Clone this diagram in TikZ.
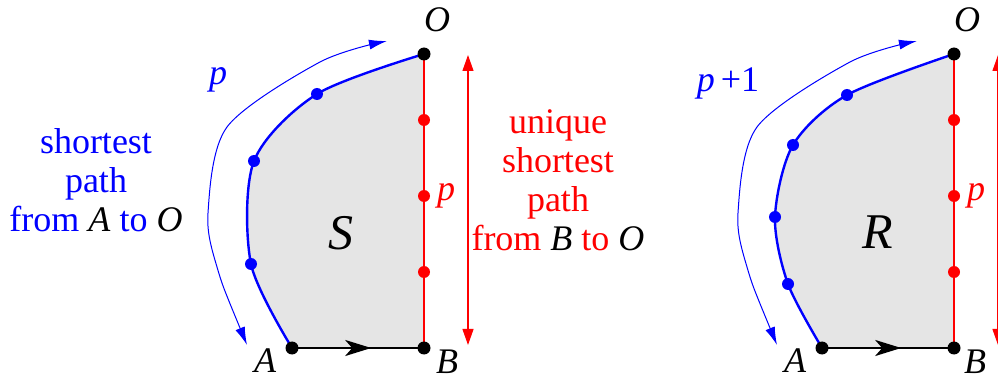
\documentclass[tikz,border=0pt]{standalone}
\usepackage{fontspec}
\setmainfont{Liberation Serif}
\definecolor{Region}{HTML}{E5E5E5}
\usetikzlibrary{arrows.meta,decorations.markings,calc}
\tikzset{
  blackdot/.style={circle,fill=black,inner sep=0pt,minimum size=6.5pt},
  bluedot/.style={circle,fill=blue,inner sep=0pt,minimum size=6pt},
  reddot/.style={circle,fill=red,inner sep=0pt,minimum size=6pt},
  region/.style={fill=Region},
  bluepath/.style={draw=blue,line width=1.2pt},
  redpath/.style={draw=red,line width=1.2pt},
  basepath/.style={draw=black,line width=1.2pt,postaction={decorate},
    decoration={markings,mark=at position 0.6 with
      {\arrow{Stealth[length=13pt,width=8pt,inset=3.5pt]}}}},
  sidearrow/.style={{Latex[length=9pt,width=5pt]}-{Latex[length=9pt,width=5pt]},
    draw=blue,line width=0.5pt},
  redarrow/.style={{Triangle[length=8pt,width=5.5pt]}-{Triangle[length=8pt,width=5.5pt]},
    draw=red,line width=0.6pt},
  lab/.style={font=\fontsize{18}{19.5}\selectfont\itshape,inner sep=1pt},
  biglab/.style={font=\fontsize{25}{27}\selectfont\itshape},
  note/.style={font=\fontsize{18}{19.5}\selectfont,align=center}
}
\newcommand{\vn}[1]{\textcolor{black}{\textit{#1}}}

\begin{document}
\begin{tikzpicture}[x=0.5pt,y=0.5pt]
  \useasboundingbox (0,0) rectangle (998,381);
  % left panel: region S
  \coordinate (A) at (292,33);
  \coordinate (B) at (424,33);
  \coordinate (O) at (424,327);
  \coordinate (a1) at (251,117);
  \coordinate (a2) at (254,220);
  \coordinate (a3) at (317,287);
  \fill[region] plot[smooth] coordinates {(A) (a1) (a2) (a3) (O)} -- (B) -- cycle;
  \draw[bluepath] plot[smooth] coordinates {(A) (a1) (a2) (a3) (O)};
  \draw[redpath] (B) -- (O);
  \draw[basepath] (A) -- (B);
  \node[bluedot] (d1) at (a1) {};
  \node[bluedot] (d2) at (a2) {};
  \node[bluedot] (d3) at (a3) {};
  \node[reddot] (e1) at (424,109) {};
  \node[reddot] (e2) at (424,185) {};
  \node[reddot] (e3) at (424,261) {};
  \node[blackdot] (nA) at (A) {};
  \node[blackdot] (nB) at (B) {};
  \node[blackdot] (nO) at (O) {};
  \node[lab] at ($(O)+(13,34)$) {O};
  \node[lab] at ($(A)+(-27,-13)$) {A};
  \node[lab] at ($(B)+(23,-14)$) {B};
  \node[biglab] at (341,148) {S};
  \coordinate (s0) at (247,36);
  \coordinate (s1) at (387,340);
  \draw[sidearrow] plot[smooth] coordinates {(s0) (217,114) (208,168) (227,254) (320,319) (s1)};
  \node[lab,text=blue] at (218,301) {p};
  \node[lab,text=red] at (446,185) {p};
  \coordinate (r0) at (468,36);
  \coordinate (r1) at (468,326);
  \draw[redarrow] (r0) -- (r1);
  \node[note,text=blue] at (96,201) {shortest\\path\\from \vn{A} to \vn{O}};
  \node[note,text=red] at (558,201) {unique\\shortest\\path\\from \vn{B} to \vn{O}};

  % right panel: region R
  \begin{scope}[xshift=265pt]
    \coordinate (A') at (292,33);
    \coordinate (B') at (424,33);
    \coordinate (O') at (424,327);
    \coordinate (b1) at (258,97);
    \coordinate (b2) at (245,164);
    \coordinate (b3) at (263,236);
    \coordinate (b4) at (317,286);
    \fill[region] plot[smooth] coordinates {(A') (b1) (b2) (b3) (b4) (O')} -- (B') -- cycle;
    \draw[bluepath] plot[smooth] coordinates {(A') (b1) (b2) (b3) (b4) (O')};
    \draw[redpath] (B') -- (O');
    \draw[basepath] (A') -- (B');
    \node[bluedot] (f1) at (b1) {};
    \node[bluedot] (f2) at (b2) {};
    \node[bluedot] (f3) at (b3) {};
    \node[bluedot] (f4) at (b4) {};
    \node[reddot] (g1) at (424,109) {};
    \node[reddot] (g2) at (424,185) {};
    \node[reddot] (g3) at (424,261) {};
    \node[blackdot] (mA) at (A') {};
    \node[blackdot] (mB) at (B') {};
    \node[blackdot] (mO) at (O') {};
    \node[lab] at ($(O')+(13,34)$) {O};
    \node[lab] at ($(A')+(-27,-13)$) {A};
    \node[lab] at ($(B')+(21,-14)$) {B};
    \node[biglab] at (348,149) {R};
    \coordinate (t0) at (247,36);
    \coordinate (t1) at (387,340);
    \draw[sidearrow] plot[smooth] coordinates {(t0) (217,114) (208,168) (227,254) (320,319) (t1)};
    \node[note,text=blue] at (198,298) {\textit{p}\,+1};
    \node[lab,text=red] at (446,185) {p};
    \coordinate (u0) at (468,36);
    \coordinate (u1) at (468,326);
    \draw[redarrow] (u0) -- (u1);
  \end{scope}
\end{tikzpicture}
\end{document}
